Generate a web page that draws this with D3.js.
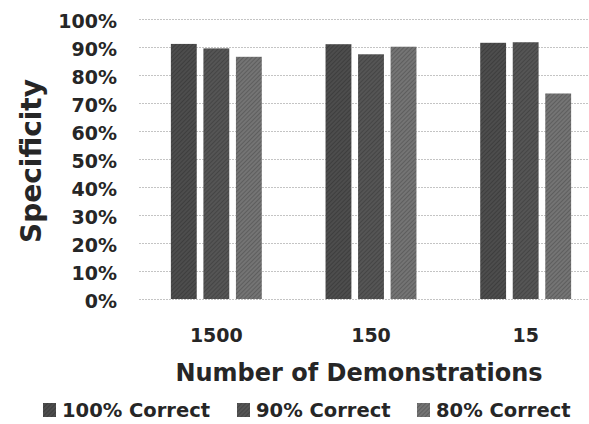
<!DOCTYPE html>
<html>
<head>
<meta charset="utf-8">
<script src="https://cdn.jsdelivr.net/npm/d3@7"></script>
<style>
  html, body { margin: 0; padding: 0; background: #fff; }
  svg { display: block; font-family: "DejaVu Sans", sans-serif; }
</style>
</head>
<body>
<svg id="chart" width="589" height="424"></svg>
<script>
// Number of demonstrations on the x axis
const categories = ["1500", "150", "15"];
// Series names (legend order)
const seriesNames = ["100% Correct", "90% Correct", "80% Correct"];
// Specificity per series, one value per category
const correct100 = [0.911, 0.910, 0.915];
const correct90  = [0.895, 0.874, 0.917];
const correct80  = [0.865, 0.901, 0.734];
const yTicks = [0, 0.1, 0.2, 0.3, 0.4, 0.5, 0.6, 0.7, 0.8, 0.9, 1.0];

const seriesValues = [correct100, correct90, correct80];
const colors = ["#4d4d4d", "#555555", "#747474"];
const textColor = "#262626";

const svg = d3.select("#chart");
const plot = { left: 139, right: 603, top: 19, bottom: 299 };

const x0 = d3.scaleBand().domain(categories).range([plot.left, plot.right]);
const x1 = d3.scaleBand().domain(d3.range(seriesNames.length))
  .range([0, x0.bandwidth()]).paddingInner(0.205).paddingOuter(0.98);
const y = d3.scaleLinear().domain([0, 1]).range([plot.bottom, plot.top]);

// hatched fills for bars
const defs = svg.append("defs");
colors.forEach((c, i) => {
  const p = defs.append("pattern").attr("id", "hatch" + i)
    .attr("patternUnits", "userSpaceOnUse").attr("width", 3).attr("height", 3)
    .attr("patternTransform", "rotate(45)");
  p.append("rect").attr("width", 3).attr("height", 3).attr("fill", c);
  p.append("rect").attr("width", 1).attr("height", 3).attr("fill", d3.color(c).darker(0.6));
});

// gridlines
svg.append("g").selectAll("line").data(yTicks).join("line")
  .attr("x1", plot.left).attr("x2", 589)
  .attr("y1", d => Math.round(y(d)) + 0.5).attr("y2", d => Math.round(y(d)) + 0.5)
  .attr("stroke", "#c4c4c4").attr("stroke-width", 1).attr("stroke-dasharray", "2,1");

// y-axis tick labels
const yAxis = d3.axisLeft(y).tickValues(yTicks).tickFormat(d3.format(".0%")).tickSize(0).tickPadding(0);
const gy = svg.append("g").attr("transform", "translate(117,2)").call(yAxis);
gy.select(".domain").remove();
gy.selectAll("text").attr("font-size", 19).attr("font-weight", 700).attr("fill", textColor)
  .attr("font-family", "DejaVu Sans, sans-serif");

// bars
const groups = svg.append("g").selectAll("g").data(categories).join("g")
  .attr("transform", d => `translate(${x0(d)},0)`);
groups.selectAll("rect")
  .data((d, ci) => seriesValues.map((vals, si) => ({ si, v: vals[ci] })))
  .join("rect")
  .attr("x", d => x1(d.si))
  .attr("width", x1.bandwidth())
  .attr("y", d => y(d.v))
  .attr("height", d => y(0) - y(d.v))
  .attr("fill", d => `url(#hatch${d.si})`);

// x-axis category labels
const xAxis = d3.axisBottom(x0).tickSize(0).tickPadding(0);
const gx = svg.append("g").attr("transform", "translate(0,328)").call(xAxis);
gx.select(".domain").remove();
gx.selectAll("text").attr("font-size", 19).attr("font-weight", 700).attr("fill", textColor)
  .attr("font-family", "DejaVu Sans, sans-serif").attr("dy", "0.72em");

// axis titles
svg.append("text").attr("x", 359).attr("y", 381).attr("text-anchor", "middle")
  .attr("font-size", 24).attr("font-weight", 700).attr("fill", textColor)
  .text("Number of Demonstrations");
svg.append("text").attr("transform", "translate(41,161) rotate(-90)").attr("text-anchor", "middle")
  .attr("font-size", 28).attr("font-weight", 700).attr("fill", textColor)
  .text("Specificity");

// legend
const legendX = [43, 237, 417];
const lg = svg.append("g").selectAll("g").data(seriesNames).join("g")
  .attr("transform", (d, i) => `translate(${legendX[i]},403)`);
lg.append("rect").attr("width", 13).attr("height", 14).attr("fill", (d, i) => `url(#hatch${i})`);
lg.append("text").attr("x", 19).attr("y", 14)
  .attr("font-size", 19.5).attr("font-weight", 700).attr("fill", textColor)
  .text(d => d);
</script>
</body>
</html>
